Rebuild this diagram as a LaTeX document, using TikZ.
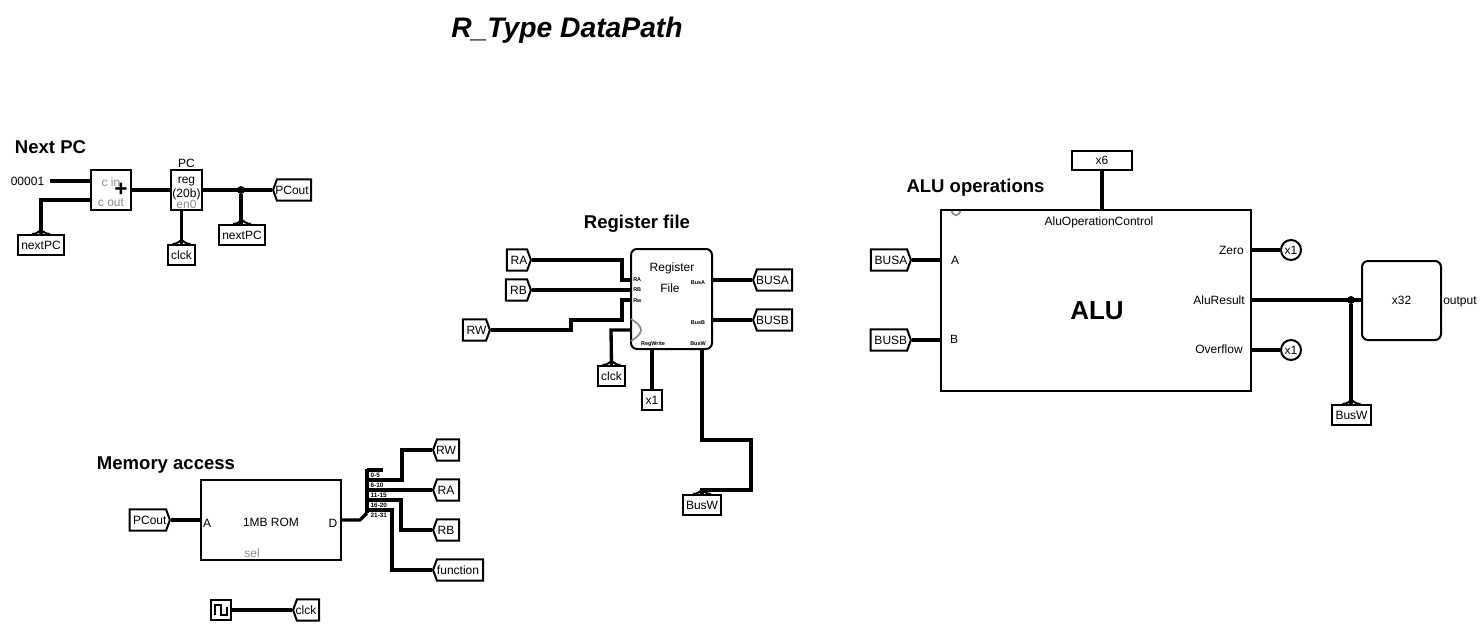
\documentclass[tikz,border=0pt]{standalone}
\usepackage{fontspec}
\setmainfont{Liberation Sans}
\usetikzlibrary{shapes.symbols,calc}
\definecolor{portgray}{gray}{0.55}
\newcommand{\fs}[1]{\fontsize{#1}{#1}\selectfont}
\tikzset{
  x=0.75pt,y=-0.75pt,
  wire/.style={line width=2.5pt,line cap=butt,line join=miter},
  box/.style={draw,line width=1.5pt,rectangle,inner sep=0pt,font=\fs{9}},
  rbox/.style={box,rounded corners=4.5pt},
  pinbase/.style={draw,line width=1.5pt,shape=signal,inner sep=0pt,font=\fs{9},signal from=nowhere,minimum height=16pt},
  pinleft/.style={pinbase,signal to=west,signal pointer angle=140,anchor=west,execute at begin node={\kern-3pt}},
  pinright/.style={pinbase,signal to=east,signal pointer angle=140,anchor=east,execute at end node={\kern-3pt}},
  pinup/.style={draw,line width=1.5pt,rectangle,inner sep=0pt,font=\fs{9},minimum height=15pt,anchor=north,
    append after command={\pgfextra{\draw[line width=1.5pt,fill=white,line join=round]
      ($(\tikzlastnode.north)+(-9,0)$) .. controls ($(\tikzlastnode.north)+(-4,0)$) and ($(\tikzlastnode.north)+(-2,-3)$) .. ($(\tikzlastnode.north)+(0,-4)$)
      .. controls ($(\tikzlastnode.north)+(2,-3)$) and ($(\tikzlastnode.north)+(4,0)$) .. ($(\tikzlastnode.north)+(9,0)$);}}},
  lbl/.style={inner sep=0pt,font=\fs{9}},
  glbl/.style={lbl,text=portgray},
  tiny/.style={inner sep=0pt,font=\bfseries\fs{4.1}},
  split/.style={inner sep=0pt,font=\bfseries\fs{4.8},fill=white,inner xsep=0.3pt,anchor=west},
  head/.style={inner sep=0pt,font=\bfseries\fs{13.9}},
  dot/.style={circle,fill=black,inner sep=0pt,minimum size=6pt},
  circ/.style={draw,circle,line width=1.5pt,inner sep=0pt,minimum size=15pt,font=\fs{9}},
  clockarc/.style={draw=portgray,line width=1.3pt},
}
\begin{document}
\begin{tikzpicture}
\path[use as bounding box,fill=white] (0,0) rectangle (1482,626);
% titles
\node[inner sep=0pt,font=\bfseries\itshape\fs{21.2}] (title) at (567,30.5) {R\_Type DataPath};
\node[head] (hpc) at (50.5,147) {Next PC};
\node[head] (hreg) at (637,224) {Register file};
\node[head] (hmem) at (166,465) {Memory access};
\node[head] (halu) at (975.5,188) {ALU operations};

% ---- Next PC
\node[box,minimum width=30pt,minimum height=30pt] (adder) at (111,190) {};
\node[glbl] (cin) at (111,182) {c in};
\node[glbl] (cout) at (111,203) {c out};
\node[inner sep=0pt,font=\bfseries\fs{17}] (plus) at (121,190) {+};
\node[lbl] (k1) at (27.5,181) {00001};
\node[box,minimum width=23.25pt,minimum height=30pt] (reg) at (186.5,190) {};
\node[lbl] (pcname) at (186.5,163) {PC};
\node[lbl] (regt) at (186.5,182) {reg};
\node[lbl] (regb) at (186.5,194) {(20b)};
\node[glbl] (en) at (186.5,204) {en0};
\node[pinleft,minimum width=28.5pt] (pcout1) at (272,190) {PCout};
\node[pinup,minimum width=34.5pt] (next1) at (41,234) {nextPC};
\node[pinup,minimum width=34.5pt] (next2) at (242,224) {nextPC};
\node[pinup,minimum width=20.25pt] (clk1) at (181.5,244) {clck};
\node[dot] (j1) at (241,190) {};
\coordinate (c1) at (41,200);
\draw[wire] (k1.east)++(6,0) coordinate (k1e) -- (adder.west|-k1e);
\draw[wire] (next1.north) -- (c1) -- (adder.west|-c1);
\draw[wire] (adder.east) -- (reg.west);
\draw[wire] (reg.east) -- (pcout1.west);
\draw[wire] (next2.north-|j1) -- (j1);
\draw[wire] (clk1.north) -- (clk1.north|-reg.south);

% ---- Register file
\node[rbox,minimum width=60.75pt,minimum height=75pt] (rf) at (671.5,299) {};
\node[lbl] (rft) at (672,268) {Register};
\node[lbl] (rff) at (670,288) {File};
\node[tiny,anchor=west] (pa) at (633,279.5) {RA};
\node[tiny,anchor=west] (pb) at (633,290) {RB};
\node[tiny,anchor=west] (pw) at (633,300.5) {Rw};
\node[tiny] (pba) at (698,283) {BusA};
\node[tiny] (pbb) at (698,323) {BusB};
\node[tiny] (prw) at (653,344) {RegWrite};
\node[tiny] (pbw) at (698,344) {BusW};
\node[pinright,minimum width=18pt] (ra) at (532,260) {RA};
\node[pinright,minimum width=18.75pt] (rb) at (532,290) {RB};
\node[pinright,minimum width=20.25pt] (rw) at (491,330) {RW};
\node[pinleft,minimum width=29.25pt] (busa) at (752,280) {BUSA};
\node[pinleft,minimum width=29.25pt] (busb) at (752,320) {BUSB};
\node[pinup,minimum width=20.25pt] (clk2) at (611.5,365) {clck};
\node[box,minimum width=15pt,minimum height=15pt] (xa) at (652,400) {x1};
\node[pinup,minimum width=28.5pt] (busw1) at (702,494) {BusW};
\coordinate (ra1) at (622,260);
\coordinate (ra2) at (622,280);
\coordinate (rw1) at (571,330);
\coordinate (rw2) at (571,320);
\coordinate (rw3) at (622,320);
\coordinate (rw4) at (622,300);
\coordinate (ck1) at (611,330);
\coordinate (bw0) at (702,349);
\coordinate (bw1) at (702,440);
\coordinate (bw2) at (751,440);
\coordinate (bw3) at (751,490);
\draw[wire] (ra.east) -- (ra1) -- (ra2) -- (rf.west|-ra2);
\draw[wire] (rb.east) -- (rf.west|-rb.east);
\draw[wire] (rw.east) -- (rw1) -- (rw2) -- (rw3) -- (rw4) -- (rf.west|-rw4);
\draw[wire] (clk2.north) -- (ck1) -- (rf.west|-ck1);
\draw[wire] (busa.west) -- (rf.east|-busa.west);
\draw[wire] (busb.west) -- (rf.east|-busb.west);
\draw[wire] (xa.north) -- (xa.north|-rf.south);
\draw[wire] (bw0) -- (bw1) -- (bw2) -- (bw3) -- ($(bw3)+(-49,0)$) -- (busw1.north);
\draw[clockarc] (631,319) .. controls (636,322) and (641,326) .. (641,330) .. controls (641,334) and (636,338) .. (631,341);

% ---- Memory
\node[box,minimum width=105pt,minimum height=60pt] (rom) at (271,520) {};
\node[lbl] (ma) at (207,523) {A};
\node[lbl] (mt) at (271,522) {1MB ROM};
\node[lbl] (md) at (333,523) {D};
\node[glbl] (ms) at (252,553) {sel};
\node[pinright,minimum width=30.25pt] (pcout2) at (171,520) {PCout};
\node[pinleft,minimum width=19.5pt] (mrw) at (432,450) {RW};
\node[pinleft,minimum width=19.5pt] (mra) at (432,490) {RA};
\node[pinleft,minimum width=19.5pt] (mrb) at (432,530) {RB};
\node[pinleft,minimum width=37.5pt] (fn) at (432,570) {function};
\node[pinleft,minimum width=19.5pt] (clk3) at (292,610) {clck};
\node[draw,line width=1.5pt,minimum size=15pt,inner sep=0pt] (gen) at (221,610) {};
\draw[line width=1.5pt] (215,615) -- (215,605) -- (221,605) -- (221,615) -- (227,615) -- (227,607);
\coordinate (sp0) at (360,520);
\coordinate (sp1) at (367,513);
\coordinate (sp2) at (367,468.5);
\coordinate (s1) at (367,480);
\coordinate (s2) at (367,490);
\coordinate (s3) at (367,500);
\coordinate (s4) at (367,510);
\coordinate (s00) at (367,470);
\coordinate (s0e) at (383,470);
\coordinate (s1a) at (402,480);
\coordinate (s3a) at (401,500);
\coordinate (s4a) at (392,510);
\draw[wire] (pcout2.east) -- (rom.west|-pcout2.east);
\draw[wire] (rom.east) -- (sp0) -- (sp1);
\draw[wire,line width=3pt] (sp1) -- (sp2);
\draw[wire] (s00) -- (s0e);
\draw[wire] (s1) -- (s1a) -- (s1a|-mrw.west) -- (mrw.west);
\draw[wire] (s2) -- (mra.west);
\draw[wire] (s3) -- (s3a) -- (s3a|-mrb.west) -- (mrb.west);
\draw[wire] (s4) -- (s4a) -- (s4a|-fn.west) -- (fn.west);
\draw[wire] (gen.east) -- (clk3.west);
\node[split] (b1) at (370,475) {0-5};
\node[split] (b2) at (370,485) {6-10};
\node[split] (b3) at (370,495) {11-15};
\node[split] (b4) at (370,505) {16-20};
\node[split] (b5) at (370,515) {21-31};

% ---- ALU
\node[box,minimum width=232.5pt,minimum height=135.75pt] (alu) at (1096,300.5) {};
\node[inner sep=0pt,font=\bfseries\fs{19.5}] (alut) at (1097,311) {ALU};
\node[lbl] (aop) at (1099,222) {AluOperationControl};
\node[lbl] (aa) at (955,260) {A};
\node[lbl] (ab) at (954,339) {B};
\node[lbl,anchor=east] (az) at (1244,250) {Zero};
\node[lbl,anchor=east] (ar) at (1245,300) {AluResult};
\node[lbl,anchor=east] (ao) at (1243,349) {Overflow};
\node[box,minimum width=45pt,minimum height=14.25pt] (x6) at (1102,160.5) {x6};
\node[pinright,minimum width=30pt] (abusa) at (912,260) {BUSA};
\node[pinright,minimum width=30.25pt] (abusb) at (912,340) {BUSB};
\node[circ] (xz) at (1291,250) {x1};
\node[circ] (xo) at (1291,350) {x1};
\node[rbox,minimum width=59.25pt,minimum height=59.25pt] (x32) at (1401.5,300.5) {x32};
\node[lbl,anchor=west] (outp) at (1443,302) {output};
\node[dot] (j2) at (1351,300) {};
\node[pinup,minimum width=29.25pt] (busw2) at (1351.5,404) {BusW};
\draw[wire] (x6.south) -- (x6.south|-alu.north);
\draw[wire] (abusa.east) -- (alu.west|-abusa.east);
\draw[wire] (abusb.east) -- (alu.west|-abusb.east);
\draw[wire] (alu.east|-xz.west) -- (xz.west);
\draw[wire] (alu.east|-xo.west) -- (xo.west);
\draw[wire] (alu.east|-j2) -- (x32.west|-j2);
\draw[wire] (j2) -- (j2|-busw2.north);
\draw[clockarc] (951.5,211) .. controls (953,216.5) and (959,216.5) .. (960.5,211);
\end{tikzpicture}
\end{document}
